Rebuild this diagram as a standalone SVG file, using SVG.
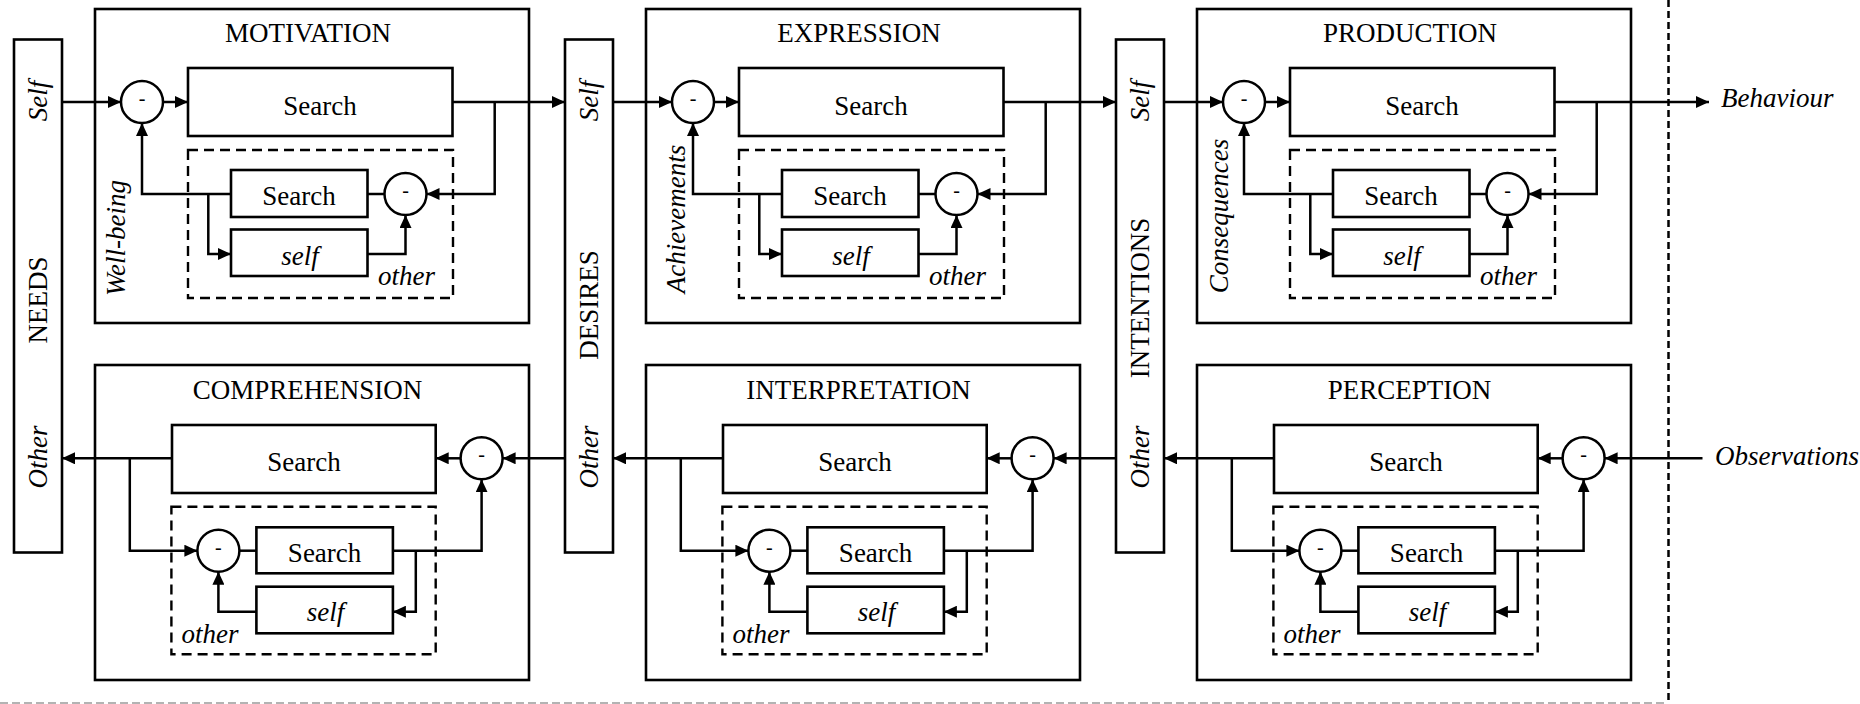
<svg xmlns="http://www.w3.org/2000/svg" width="1860" height="704" viewBox="0 0 1860 704">
  <defs>
    <style>
      .box { fill: #fff; stroke: #000; stroke-width: 2.6; }
      .bar { fill: #fff; stroke: #000; stroke-width: 2.6; }
      .dash { fill: none; stroke: #000; stroke-width: 2.4; stroke-dasharray: 10 6; }
      .sum { fill: #fff; stroke: #000; stroke-width: 2.5; }
      .wire { fill: none; stroke: #000; stroke-width: 2.5; }
      .arr { marker-end: url(#head); }
      .t { font-family: "Liberation Serif", "Times New Roman", serif; font-size: 27px; fill: #000; }
      .c { text-anchor: middle; }
      .i { font-style: italic; }
      .m { font-family: "Liberation Serif", serif; font-size: 20px; text-anchor: middle; fill: #000; }
      .sep { fill: none; stroke: #000; stroke-width: 2.5; stroke-dasharray: 7 4; }
      .sep2 { fill: none; stroke: #9a9a9a; stroke-width: 1.5; stroke-dasharray: 8 4; }
    </style>
    <marker id="head" markerUnits="userSpaceOnUse" markerWidth="14" markerHeight="12" refX="13" refY="6" orient="auto">
      <path d="M0,0 L13,6 L0,12 Z" fill="#000"/>
    </marker>
  </defs>

  <!-- boundary lines -->
  <line class="sep" x1="1668.5" y1="0" x2="1668.5" y2="704"/>
  <line class="sep2" x1="0" y1="703" x2="1668" y2="703"/>

  <!-- state bars -->
  <g id="needs">
    <rect class="bar" x="14" y="39.5" width="48" height="513"/>
    <text class="t c i" transform="translate(38,101) rotate(-90)" y="8.5">Self</text>
    <text class="t c" transform="translate(38,300) rotate(-90)" y="8.5">NEEDS</text>
    <text class="t c i" transform="translate(38,457) rotate(-90)" y="8.5">Other</text>
  </g>
  <g id="desires">
    <rect class="bar" x="565" y="39.5" width="48" height="513"/>
    <text class="t c i" transform="translate(589,101) rotate(-90)" y="8.5">Self</text>
    <text class="t c" transform="translate(589,305) rotate(-90)" y="8.5">DESIRES</text>
    <text class="t c i" transform="translate(589,457) rotate(-90)" y="8.5">Other</text>
  </g>
  <g id="intentions">
    <rect class="bar" x="1116" y="39.5" width="48" height="513"/>
    <text class="t c i" transform="translate(1140,101) rotate(-90)" y="8.5">Self</text>
    <text class="t c" transform="translate(1140,298) rotate(-90)" y="8.5">INTENTIONS</text>
    <text class="t c i" transform="translate(1140,457) rotate(-90)" y="8.5">Other</text>
  </g>

  <!-- upper modules -->
  <g id="motivation" transform="translate(95,9)">
    <rect class="box" x="0" y="0" width="434" height="314"/>
    <text class="t c" x="213" y="33">MOTIVATION</text>
    <rect class="dash" x="93" y="141" width="265" height="148"/>
    <circle class="sum" cx="47" cy="93" r="21"/><text class="m" x="47" y="96">-</text>
    <rect class="box" x="93" y="59" width="264.5" height="68"/>
    <text class="t c" x="225" y="106">Search</text>
    <rect class="box" x="136" y="161" width="136.5" height="47"/>
    <text class="t c" x="204" y="196">Search</text>
    <circle class="sum" cx="310.5" cy="185" r="21"/><text class="m" x="310.5" y="188">-</text>
    <rect class="box" x="136" y="220.5" width="136.5" height="46.5"/>
    <text class="t c i" x="205" y="255.5">self</text>
    <text class="t i" x="283" y="276">other</text>
    <text class="t c i" transform="translate(30,229) rotate(-90)">Well-being</text>
  </g>
  <g id="expression" transform="translate(646,9)">
    <rect class="box" x="0" y="0" width="434" height="314"/>
    <text class="t c" x="213" y="33">EXPRESSION</text>
    <rect class="dash" x="93" y="141" width="265" height="148"/>
    <circle class="sum" cx="47" cy="93" r="21"/><text class="m" x="47" y="96">-</text>
    <rect class="box" x="93" y="59" width="264.5" height="68"/>
    <text class="t c" x="225" y="106">Search</text>
    <rect class="box" x="136" y="161" width="136.5" height="47"/>
    <text class="t c" x="204" y="196">Search</text>
    <circle class="sum" cx="310.5" cy="185" r="21"/><text class="m" x="310.5" y="188">-</text>
    <rect class="box" x="136" y="220.5" width="136.5" height="46.5"/>
    <text class="t c i" x="205" y="255.5">self</text>
    <text class="t i" x="283" y="276">other</text>
    <text class="t c i" transform="translate(38.5,210) rotate(-90)">Achievements</text>
  </g>
  <g id="production" transform="translate(1197,9)">
    <rect class="box" x="0" y="0" width="434" height="314"/>
    <text class="t c" x="213" y="33">PRODUCTION</text>
    <rect class="dash" x="93" y="141" width="265" height="148"/>
    <circle class="sum" cx="47" cy="93" r="21"/><text class="m" x="47" y="96">-</text>
    <rect class="box" x="93" y="59" width="264.5" height="68"/>
    <text class="t c" x="225" y="106">Search</text>
    <rect class="box" x="136" y="161" width="136.5" height="47"/>
    <text class="t c" x="204" y="196">Search</text>
    <circle class="sum" cx="310.5" cy="185" r="21"/><text class="m" x="310.5" y="188">-</text>
    <rect class="box" x="136" y="220.5" width="136.5" height="46.5"/>
    <text class="t c i" x="205" y="255.5">self</text>
    <text class="t i" x="283" y="276">other</text>
    <text class="t c i" transform="translate(31,207) rotate(-90)">Consequences</text>
  </g>

  <!-- lower modules -->
  <g id="comprehension" transform="translate(95,365)">
    <rect class="box" x="0" y="0" width="434" height="315"/>
    <text class="t c" x="212.5" y="34">COMPREHENSION</text>
    <rect class="dash" x="76.4" y="141.7" width="264.3" height="147.6"/>
    <rect class="box" x="77" y="60" width="263.7" height="68"/>
    <text class="t c" x="209" y="105.7">Search</text>
    <circle class="sum" cx="386.6" cy="93.3" r="21"/><text class="m" x="386.6" y="96.3">-</text>
    <circle class="sum" cx="123.4" cy="185.7" r="21"/><text class="m" x="123.4" y="188.7">-</text>
    <rect class="box" x="161.4" y="162.3" width="136.5" height="46"/>
    <text class="t c" x="229.6" y="197.3">Search</text>
    <rect class="box" x="161.4" y="221.7" width="136.5" height="46.6"/>
    <text class="t c i" x="230.5" y="256">self</text>
    <text class="t i" x="86.5" y="278.3">other</text>
  </g>
  <g id="interpretation" transform="translate(646,365)">
    <rect class="box" x="0" y="0" width="434" height="315"/>
    <text class="t c" x="212.5" y="34">INTERPRETATION</text>
    <rect class="dash" x="76.4" y="141.7" width="264.3" height="147.6"/>
    <rect class="box" x="77" y="60" width="263.7" height="68"/>
    <text class="t c" x="209" y="105.7">Search</text>
    <circle class="sum" cx="386.6" cy="93.3" r="21"/><text class="m" x="386.6" y="96.3">-</text>
    <circle class="sum" cx="123.4" cy="185.7" r="21"/><text class="m" x="123.4" y="188.7">-</text>
    <rect class="box" x="161.4" y="162.3" width="136.5" height="46"/>
    <text class="t c" x="229.6" y="197.3">Search</text>
    <rect class="box" x="161.4" y="221.7" width="136.5" height="46.6"/>
    <text class="t c i" x="230.5" y="256">self</text>
    <text class="t i" x="86.5" y="278.3">other</text>
  </g>
  <g id="perception" transform="translate(1197,365)">
    <rect class="box" x="0" y="0" width="434" height="315"/>
    <text class="t c" x="212.5" y="34">PERCEPTION</text>
    <rect class="dash" x="76.4" y="141.7" width="264.3" height="147.6"/>
    <rect class="box" x="77" y="60" width="263.7" height="68"/>
    <text class="t c" x="209" y="105.7">Search</text>
    <circle class="sum" cx="386.6" cy="93.3" r="21"/><text class="m" x="386.6" y="96.3">-</text>
    <circle class="sum" cx="123.4" cy="185.7" r="21"/><text class="m" x="123.4" y="188.7">-</text>
    <rect class="box" x="161.4" y="162.3" width="136.5" height="46"/>
    <text class="t c" x="229.6" y="197.3">Search</text>
    <rect class="box" x="161.4" y="221.7" width="136.5" height="46.6"/>
    <text class="t c i" x="230.5" y="256">self</text>
    <text class="t i" x="86.5" y="278.3">other</text>
  </g>

  <!-- external signals -->
  <g id="behaviour">
    <text class="t i" x="1721" y="107">Behaviour</text>
  </g>
  <g id="observations">
    <text class="t i" x="1715" y="465">Observations</text>
  </g>

  <!-- connectors -->
  <g id="connectors">
    <!-- upper row: bar to module and module to bar -->
    <path class="wire arr" d="M62,102 H121"/>
    <path class="wire arr" d="M613,102 H672"/>
    <path class="wire arr" d="M1164,102 H1223"/>
    <path class="wire arr" d="M452.5,102 H565"/>
    <path class="wire arr" d="M1003.5,102 H1116"/>
    <path class="wire arr" d="M1554.5,102 H1709"/>
    <!-- lower row: bar to module and module to bar -->
    <path class="wire arr" d="M565,458.3 H502.6"/>
    <path class="wire arr" d="M1116,458.3 H1053.6"/>
    <path class="wire arr" d="M1702.5,458.3 H1604.6"/>
    <path class="wire arr" d="M172,458.3 H62"/>
    <path class="wire arr" d="M723,458.3 H613"/>
    <path class="wire arr" d="M1274,458.3 H1164"/>

    <!-- wiring inside the upper modules -->
    <g transform="translate(95,9)">
      <path class="wire arr" d="M68,93 H93"/>
      <path class="wire arr" d="M399.7,93 V185 H331.5"/>
      <path class="wire" d="M289.5,185 H272.5"/>
      <path class="wire arr" d="M136,185 H47 V114"/>
      <path class="wire arr" d="M113.3,185 V245 H136"/>
      <path class="wire arr" d="M272.5,245 H310.5 V206"/>
    </g>
    <g transform="translate(646,9)">
      <path class="wire arr" d="M68,93 H93"/>
      <path class="wire arr" d="M399.7,93 V185 H331.5"/>
      <path class="wire" d="M289.5,185 H272.5"/>
      <path class="wire arr" d="M136,185 H47 V114"/>
      <path class="wire arr" d="M113.3,185 V245 H136"/>
      <path class="wire arr" d="M272.5,245 H310.5 V206"/>
    </g>
    <g transform="translate(1197,9)">
      <path class="wire arr" d="M68,93 H93"/>
      <path class="wire arr" d="M399.7,93 V185 H331.5"/>
      <path class="wire" d="M289.5,185 H272.5"/>
      <path class="wire arr" d="M136,185 H47 V114"/>
      <path class="wire arr" d="M113.3,185 V245 H136"/>
      <path class="wire arr" d="M272.5,245 H310.5 V206"/>
    </g>

    <!-- wiring inside the lower modules -->
    <g transform="translate(95,365)">
      <path class="wire arr" d="M365.6,93.3 H340.7"/>
      <path class="wire arr" d="M34.8,93.3 V185.7 H102.4"/>
      <path class="wire" d="M144.4,185.7 H161.4"/>
      <path class="wire arr" d="M297.9,185.7 H386.6 V114.3"/>
      <path class="wire arr" d="M320.8,185.7 V246.7 H297.9"/>
      <path class="wire arr" d="M161.4,246.7 H123.4 V206.7"/>
    </g>
    <g transform="translate(646,365)">
      <path class="wire arr" d="M365.6,93.3 H340.7"/>
      <path class="wire arr" d="M34.8,93.3 V185.7 H102.4"/>
      <path class="wire" d="M144.4,185.7 H161.4"/>
      <path class="wire arr" d="M297.9,185.7 H386.6 V114.3"/>
      <path class="wire arr" d="M320.8,185.7 V246.7 H297.9"/>
      <path class="wire arr" d="M161.4,246.7 H123.4 V206.7"/>
    </g>
    <g transform="translate(1197,365)">
      <path class="wire arr" d="M365.6,93.3 H340.7"/>
      <path class="wire arr" d="M34.8,93.3 V185.7 H102.4"/>
      <path class="wire" d="M144.4,185.7 H161.4"/>
      <path class="wire arr" d="M297.9,185.7 H386.6 V114.3"/>
      <path class="wire arr" d="M320.8,185.7 V246.7 H297.9"/>
      <path class="wire arr" d="M161.4,246.7 H123.4 V206.7"/>
    </g>
  </g>
</svg>
